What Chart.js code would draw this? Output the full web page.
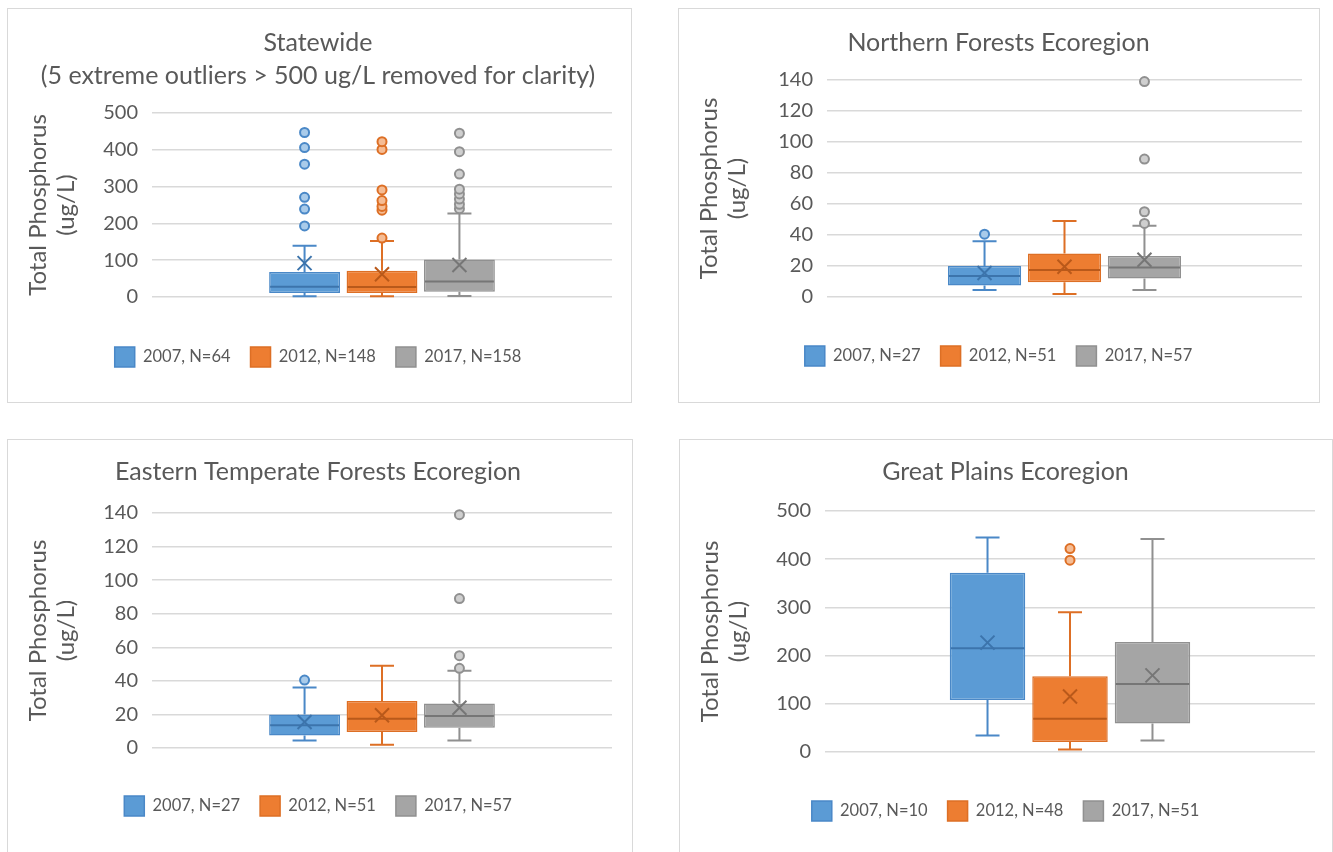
<!DOCTYPE html>
<html>
<head>
<meta charset="utf-8">
<script src="https://cdn.jsdelivr.net/npm/chart.js@4.4.1/dist/chart.umd.min.js"></script>
<style>
  body { margin: 0; background: #fff; width: 1333px; height: 852px; overflow: hidden; position: relative; }
  .panel { position: absolute; border: 1px solid #d9d9d9; box-sizing: border-box; background: #fff; }
  .panel canvas { display: block; }
</style>
</head>
<body>
<div class="panel" style="left:7px;top:8px;width:625px;height:395px"><canvas id="statewide" width="623" height="393"></canvas></div>
<div class="panel" style="left:678px;top:8px;width:642px;height:395px"><canvas id="northern" width="640" height="393"></canvas></div>
<div class="panel" style="left:7px;top:439px;width:626px;height:420px"><canvas id="eastern" width="624" height="418"></canvas></div>
<div class="panel" style="left:679px;top:439px;width:654px;height:420px"><canvas id="plains" width="652" height="418"></canvas></div>

<script>
// Statewide
const stateLegend = ['2007, N=64', '2012, N=148', '2017, N=158'];
const stateLow = [2, 2, 3];
const stateQ1 = [11, 11, 14];
const stateMedian = [28, 27, 42];
const stateQ3 = [68, 71, 102];
const stateHigh = [139, 152, 227];
const stateMean = [92, 62, 87];
const stateOutliers = [
    [193, 239, 271, 361, 406, 447],
    [160, 236, 246, 262, 291, 401, 422],
    [240, 252, 266, 280, 293, 334, 395, 445]
];

// Northern Forests Ecoregion
const northLegend = ['2007, N=27', '2012, N=51', '2017, N=57'];
const northLow = [4.5, 2, 4.5];
const northQ1 = [7.5, 9.5, 12];
const northMedian = [13.5, 17.5, 19];
const northQ3 = [20, 28, 26.5];
const northHigh = [36, 49, 46];
const northMean = [15.5, 19.5, 24];
const northOutliers = [[40.5], [], [47.5, 55, 89, 139]];

// Eastern Temperate Forests Ecoregion
const eastLegend = ['2007, N=27', '2012, N=51', '2017, N=57'];
const eastLow = [4.5, 2, 4.5];
const eastQ1 = [7.5, 9.5, 12];
const eastMedian = [13.5, 17.5, 19];
const eastQ3 = [20, 28, 26.5];
const eastHigh = [36, 49, 46];
const eastMean = [15.5, 19.5, 24];
const eastOutliers = [[40.5], [], [47.5, 55, 89, 139]];

// Great Plains Ecoregion
const plainsLegend = ['2007, N=10', '2012, N=48', '2017, N=51'];
const plainsLow = [34, 5, 24];
const plainsQ1 = [108, 21, 59];
const plainsMedian = [215, 69, 141];
const plainsQ3 = [372, 157, 228];
const plainsHigh = [445, 290, 442];
const plainsMean = [227, 115, 159];
const plainsOutliers = [[], [398, 422], []];

const fills = ['#5B9BD5', '#ED7D31', '#A5A5A5'];
const lines = ['#4A88C7', '#DD6F25', '#909090'];
const inner = ['#3C74AC', '#B9591A', '#767676'];
const dotFills = ['#A9CBEA', '#F5BC94', '#CFCFCF'];
const textGray = '#595959';

Chart.defaults.font.family = 'Lato, sans-serif';
Chart.defaults.color = textGray;

// whiskers, median, mean and outliers drawn from the bar positions and the y scale
const boxParts = {
    id: 'boxParts',
    beforeDatasetsDraw(chart) {
        const ctx = chart.ctx;
        const y = chart.scales.y;
        chart.data.datasets.forEach((ds, i) => {
            const bar = chart.getDatasetMeta(i).data[0];
            const [q1, q3] = ds.data[0];
            const x = bar.x;
            const cap = 12;
            ctx.save();
            ctx.strokeStyle = ds.borderColor;
            ctx.lineWidth = 2;
            ctx.beginPath();
            ctx.moveTo(x, y.getPixelForValue(q3));
            ctx.lineTo(x, y.getPixelForValue(ds.high));
            ctx.moveTo(x - cap, y.getPixelForValue(ds.high));
            ctx.lineTo(x + cap, y.getPixelForValue(ds.high));
            ctx.moveTo(x, y.getPixelForValue(q1));
            ctx.lineTo(x, y.getPixelForValue(ds.low));
            ctx.moveTo(x - cap, y.getPixelForValue(ds.low));
            ctx.lineTo(x + cap, y.getPixelForValue(ds.low));
            ctx.stroke();
            ctx.restore();
        });
    },
    afterDatasetsDraw(chart) {
        const ctx = chart.ctx;
        const y = chart.scales.y;
        chart.data.datasets.forEach((ds, i) => {
            const bar = chart.getDatasetMeta(i).data[0];
            const x = bar.x;
            const half = bar.width / 2;
            ctx.save();
            ctx.strokeStyle = ds.innerColor;
            ctx.lineWidth = 2;
            // median
            const my = y.getPixelForValue(ds.median);
            ctx.beginPath();
            ctx.moveTo(x - half + 1, my);
            ctx.lineTo(x + half - 1, my);
            ctx.stroke();
            // mean marker
            const ay = y.getPixelForValue(ds.mean);
            const m = 7;
            ctx.beginPath();
            ctx.moveTo(x - m, ay - m);
            ctx.lineTo(x + m, ay + m);
            ctx.moveTo(x + m, ay - m);
            ctx.lineTo(x - m, ay + m);
            ctx.stroke();
            // outliers
            ds.outliers.forEach(v => {
                ctx.beginPath();
                ctx.arc(x, y.getPixelForValue(v), 4.5, 0, Math.PI * 2);
                ctx.fillStyle = ds.dotFill;
                ctx.fill();
                ctx.lineWidth = 2;
                ctx.strokeStyle = ds.borderColor;
                ctx.stroke();
            });
            ctx.restore();
        });
    }
};

function makeBoxChart(id, title, legend, low, q1, median, q3, high, mean, outliers, yMax, yStep, lay) {
    const datasets = legend.map((label, i) => ({
        label: label,
        data: [[q1[i], q3[i]]],
        backgroundColor: fills[i],
        borderColor: lines[i],
        borderWidth: 1.5,
        borderSkipped: false,
        categoryPercentage: 0.505,
        barPercentage: 0.915,
        low: low[i],
        high: high[i],
        median: median[i],
        mean: mean[i],
        outliers: outliers[i],
        innerColor: inner[i],
        dotFill: dotFills[i]
    }));

    new Chart(document.getElementById(id), {
        type: 'bar',
        data: { labels: [''], datasets: datasets },
        plugins: [boxParts],
        options: {
            responsive: false,
            animation: false,
            layout: { padding: { left: 16, right: lay.right, top: 0, bottom: lay.bottom } },
            plugins: {
                title: {
                    display: true,
                    text: title,
                    color: textGray,
                    font: { size: 25, weight: 'normal', lineHeight: 1.32 },
                    padding: { top: lay.titleTop, bottom: lay.titleBottom }
                },
                legend: {
                    position: 'bottom',
                    labels: { boxWidth: 20, boxHeight: 20, padding: 20, color: textGray, font: { size: 16.5 } }
                },
                tooltip: { enabled: false }
            },
            scales: {
                x: {
                    ticks: { display: false },
                    grid: { display: false },
                    border: { display: false },
                    afterFit: s => { s.height = lay.gap; }
                },
                y: {
                    min: 0,
                    max: yMax,
                    ticks: { stepSize: yStep, color: textGray, font: { size: 20 }, padding: 14 },
                    grid: { color: '#d9d9d9', lineWidth: 1.5, drawTicks: false },
                    border: { display: false },
                    title: {
                        display: true,
                        text: ['Total Phosphorus', '(ug/L)'],
                        color: textGray,
                        font: { size: 24, lineHeight: 1.17 },
                        padding: 0
                    },
                    afterFit: s => { s.width = lay.yWidth; }
                }
            }
        }
    });
}

makeBoxChart('statewide', ['Statewide', '(5 extreme outliers > 500 ug/L removed for clarity)'],
    stateLegend, stateLow, stateQ1, stateMedian, stateQ3, stateHigh, stateMean, stateOutliers, 500, 100,
    { right: 19, bottom: 25, titleTop: 17, titleBottom: 21, gap: 30, yWidth: 128 });

makeBoxChart('northern', 'Northern Forests Ecoregion',
    northLegend, northLow, northQ1, northMedian, northQ3, northHigh, northMean, northOutliers, 140, 20,
    { right: 17, bottom: 26, titleTop: 17, titleBottom: 21, gap: 29, yWidth: 132 });

makeBoxChart('eastern', 'Eastern Temperate Forests Ecoregion',
    eastLegend, eastLow, eastQ1, eastMedian, eastQ3, eastHigh, eastMean, eastOutliers, 140, 20,
    { right: 20, bottom: 32, titleTop: 15, titleBottom: 25, gap: 28, yWidth: 128 });

makeBoxChart('plains', 'Great Plains Ecoregion',
    plainsLegend, plainsLow, plainsQ1, plainsMedian, plainsQ3, plainsHigh, plainsMean, plainsOutliers, 500, 100,
    { right: 17, bottom: 27, titleTop: 15, titleBottom: 23, gap: 29, yWidth: 129 });
</script>
</body>
</html>
